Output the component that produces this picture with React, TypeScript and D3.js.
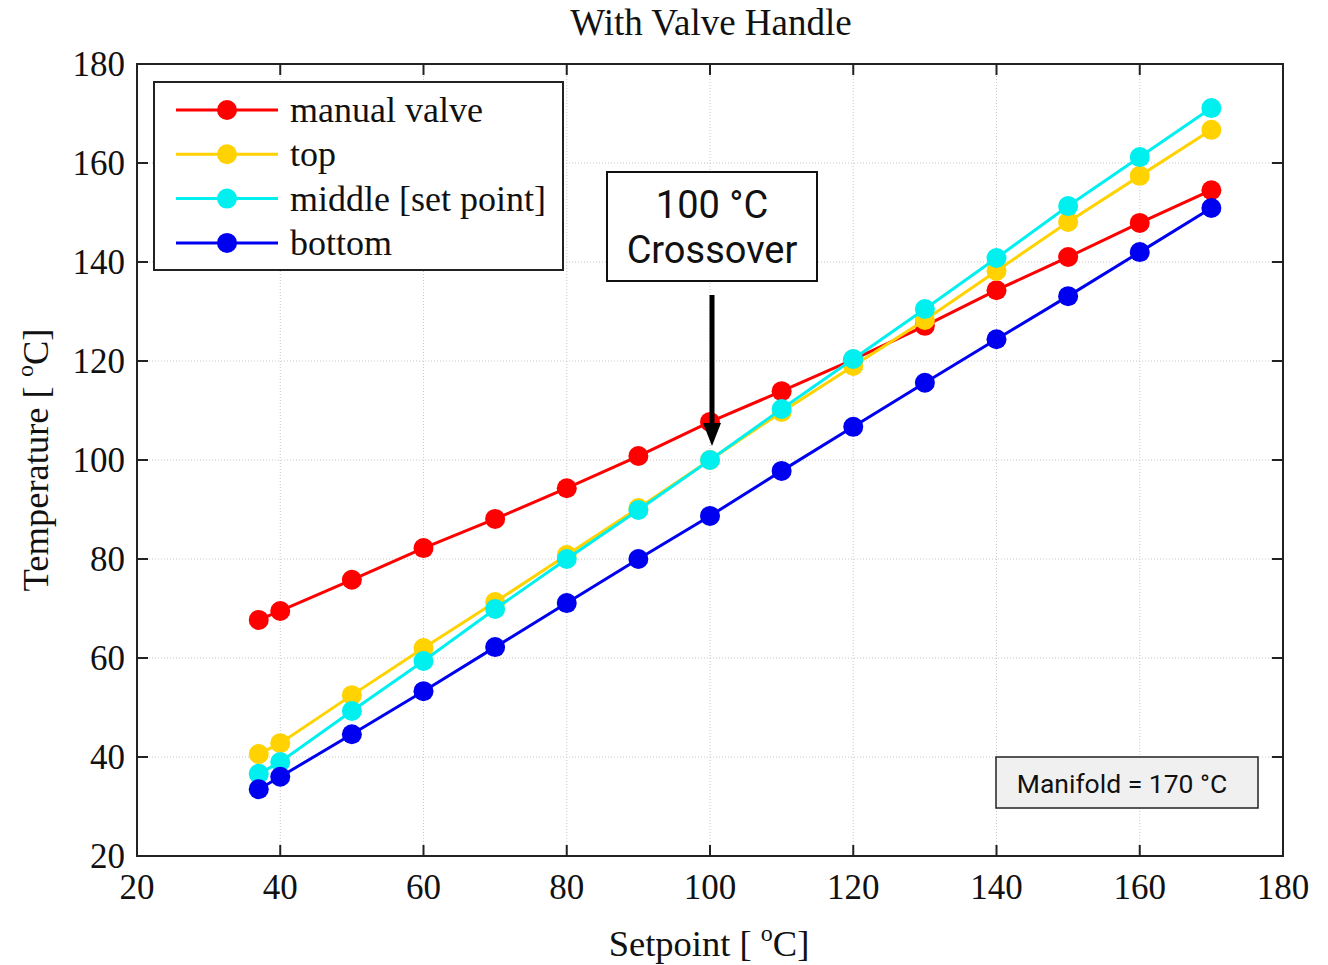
import React, { useEffect, useRef } from 'react';
import * as d3 from 'd3';

const setpoints = [37, 40, 50, 60, 70, 80, 90, 100, 110, 120, 130, 140, 150, 160, 170];
const manualValve = [67.7, 69.5, 75.8, 82.2, 88.1, 94.3, 100.8, 107.7, 113.9, 120.3, 127.1, 134.3, 141.0, 147.9, 154.5];
const topTemp = [40.6, 42.8, 52.5, 62.0, 71.3, 80.8, 90.3, 100.0, 109.7, 119.0, 128.3, 138.2, 148.1, 157.4, 166.7];
const middleTemp = [36.6, 39.0, 49.3, 59.4, 69.9, 80.0, 89.9, 100.0, 110.3, 120.4, 130.5, 140.8, 151.3, 161.2, 171.1];
const bottomTemp = [33.5, 36.0, 44.6, 53.3, 62.2, 71.1, 80.0, 88.7, 97.8, 106.7, 115.6, 124.4, 133.1, 142.0, 150.9];

const seriesNames = ['manual valve', 'top', 'middle [set point]', 'bottom'];
const seriesColors = ['#ff0000', '#ffd200', '#00f0f0', '#0000f0'];
const tickValues = [20, 40, 60, 80, 100, 120, 140, 160, 180];

const W = 1328;
const H = 965;
const serif = '"Liberation Serif", "Times New Roman", serif';
const sans = 'Roboto, "Noto Sans", sans-serif';

const App = () => {
  const ref = useRef<SVGSVGElement>(null);

  useEffect(() => {
    const svg = d3.select(ref.current);
    svg.selectAll('*').remove();

    const left = 137, right = 1283, top = 64, bottom = 856;
    const x = d3.scaleLinear().domain([20, 180]).range([left, right]);
    const y = d3.scaleLinear().domain([20, 180]).range([bottom, top]);

    svg.append('rect').attr('width', W).attr('height', H).attr('fill', 'white');

    // grid
    const grid = svg.append('g').attr('stroke', '#c8c8c8').attr('stroke-width', 1).attr('stroke-dasharray', '1,2');
    tickValues.slice(1, -1).forEach(v => {
      grid.append('line').attr('x1', x(v)).attr('x2', x(v)).attr('y1', top).attr('y2', bottom);
      grid.append('line').attr('x1', left).attr('x2', right).attr('y1', y(v)).attr('y2', y(v));
    });

    // frame + inward ticks
    svg.append('rect').attr('x', left).attr('y', top).attr('width', right - left).attr('height', bottom - top)
      .attr('fill', 'none').attr('stroke', '#222').attr('stroke-width', 2);
    const ticks = svg.append('g').attr('stroke', '#222').attr('stroke-width', 2);
    tickValues.forEach(v => {
      ticks.append('line').attr('x1', x(v)).attr('x2', x(v)).attr('y1', bottom).attr('y2', bottom - 11);
      ticks.append('line').attr('x1', x(v)).attr('x2', x(v)).attr('y1', top).attr('y2', top + 11);
      ticks.append('line').attr('x1', left).attr('x2', left + 11).attr('y1', y(v)).attr('y2', y(v));
      ticks.append('line').attr('x1', right).attr('x2', right - 11).attr('y1', y(v)).attr('y2', y(v));
    });

    // tick labels
    tickValues.forEach(v => {
      svg.append('text').attr('x', x(v)).attr('y', bottom + 43).attr('text-anchor', 'middle')
        .attr('font-family', serif).attr('font-size', 35).attr('fill', '#111').text(v);
      svg.append('text').attr('x', left - 12).attr('y', y(v) + 12).attr('text-anchor', 'end')
        .attr('font-family', serif).attr('font-size', 35).attr('fill', '#111').text(v);
    });

    // title & labels
    svg.append('text').attr('x', 711).attr('y', 35).attr('text-anchor', 'middle')
      .attr('font-family', serif).attr('font-size', 37).attr('fill', '#111').text('With Valve Handle');

    const xl = svg.append('text').attr('x', 709).attr('y', 956).attr('text-anchor', 'middle')
      .attr('font-family', serif).attr('font-size', 36.5).attr('fill', '#111');
    xl.append('tspan').text('Setpoint [ ');
    xl.append('tspan').attr('dy', -15).attr('font-size', 24).text('o');
    xl.append('tspan').attr('dy', 15).text('C]');

    const yl = svg.append('text').attr('transform', 'translate(48,460) rotate(-90)').attr('text-anchor', 'middle')
      .attr('font-family', serif).attr('font-size', 36.5).attr('fill', '#111');
    yl.append('tspan').text('Temperature [ ');
    yl.append('tspan').attr('dy', -15).attr('font-size', 24).text('o');
    yl.append('tspan').attr('dy', 15).text('C]');

    // series
    const allSeries = [manualValve, topTemp, middleTemp, bottomTemp];
    const line = d3.line<number>().x((_, i) => x(setpoints[i])).y(d => y(d));
    allSeries.forEach((vals, si) => {
      const g = svg.append('g');
      g.append('path').attr('d', line(vals)).attr('fill', 'none')
        .attr('stroke', seriesColors[si]).attr('stroke-width', 3);
      g.selectAll('circle').data(vals).enter().append('circle')
        .attr('cx', (_, i) => x(setpoints[i])).attr('cy', d => y(d)).attr('r', 10)
        .attr('fill', seriesColors[si]);
    });

    // legend
    const lg = svg.append('g');
    lg.append('rect').attr('x', 154).attr('y', 82).attr('width', 409).attr('height', 188)
      .attr('fill', 'white').attr('stroke', '#222').attr('stroke-width', 2);
    seriesNames.forEach((name, i) => {
      const ly = 110 + i * 44.3;
      lg.append('line').attr('x1', 176).attr('x2', 278).attr('y1', ly).attr('y2', ly)
        .attr('stroke', seriesColors[i]).attr('stroke-width', 3);
      lg.append('circle').attr('cx', 227).attr('cy', ly).attr('r', 10).attr('fill', seriesColors[i]);
      lg.append('text').attr('x', 290).attr('y', ly + 12).attr('font-family', serif).attr('font-size', 36)
        .attr('fill', '#111').text(name);
    });

    // crossover annotation
    svg.append('rect').attr('x', 607).attr('y', 172).attr('width', 210).attr('height', 109)
      .attr('fill', 'white').attr('stroke', '#111').attr('stroke-width', 2);
    svg.append('text').attr('x', 712).attr('y', 218).attr('text-anchor', 'middle')
      .attr('font-family', sans).attr('font-size', 38).attr('fill', '#111').text('100 °C');
    svg.append('text').attr('x', 712).attr('y', 263).attr('text-anchor', 'middle')
      .attr('font-family', sans).attr('font-size', 38).attr('fill', '#111').text('Crossover');
    svg.append('line').attr('x1', 712).attr('x2', 712).attr('y1', 295).attr('y2', 425)
      .attr('stroke', '#000').attr('stroke-width', 5);
    svg.append('path').attr('d', 'M703,423 L721,423 L712,446 Z').attr('fill', '#000');

    // manifold note
    svg.append('rect').attr('x', 996).attr('y', 757).attr('width', 262).attr('height', 51)
      .attr('fill', '#f0f0f0').attr('stroke', '#222').attr('stroke-width', 1.5);
    svg.append('text').attr('x', 1122).attr('y', 793).attr('text-anchor', 'middle')
      .attr('font-family', sans).attr('font-size', 26.5).attr('fill', '#111').text('Manifold = 170 °C');
  }, []);

  return (
    <svg ref={ref} width={W} height={H} style={{ position: 'absolute', left: 0, top: 0 }} />
  );
};

export default App;
